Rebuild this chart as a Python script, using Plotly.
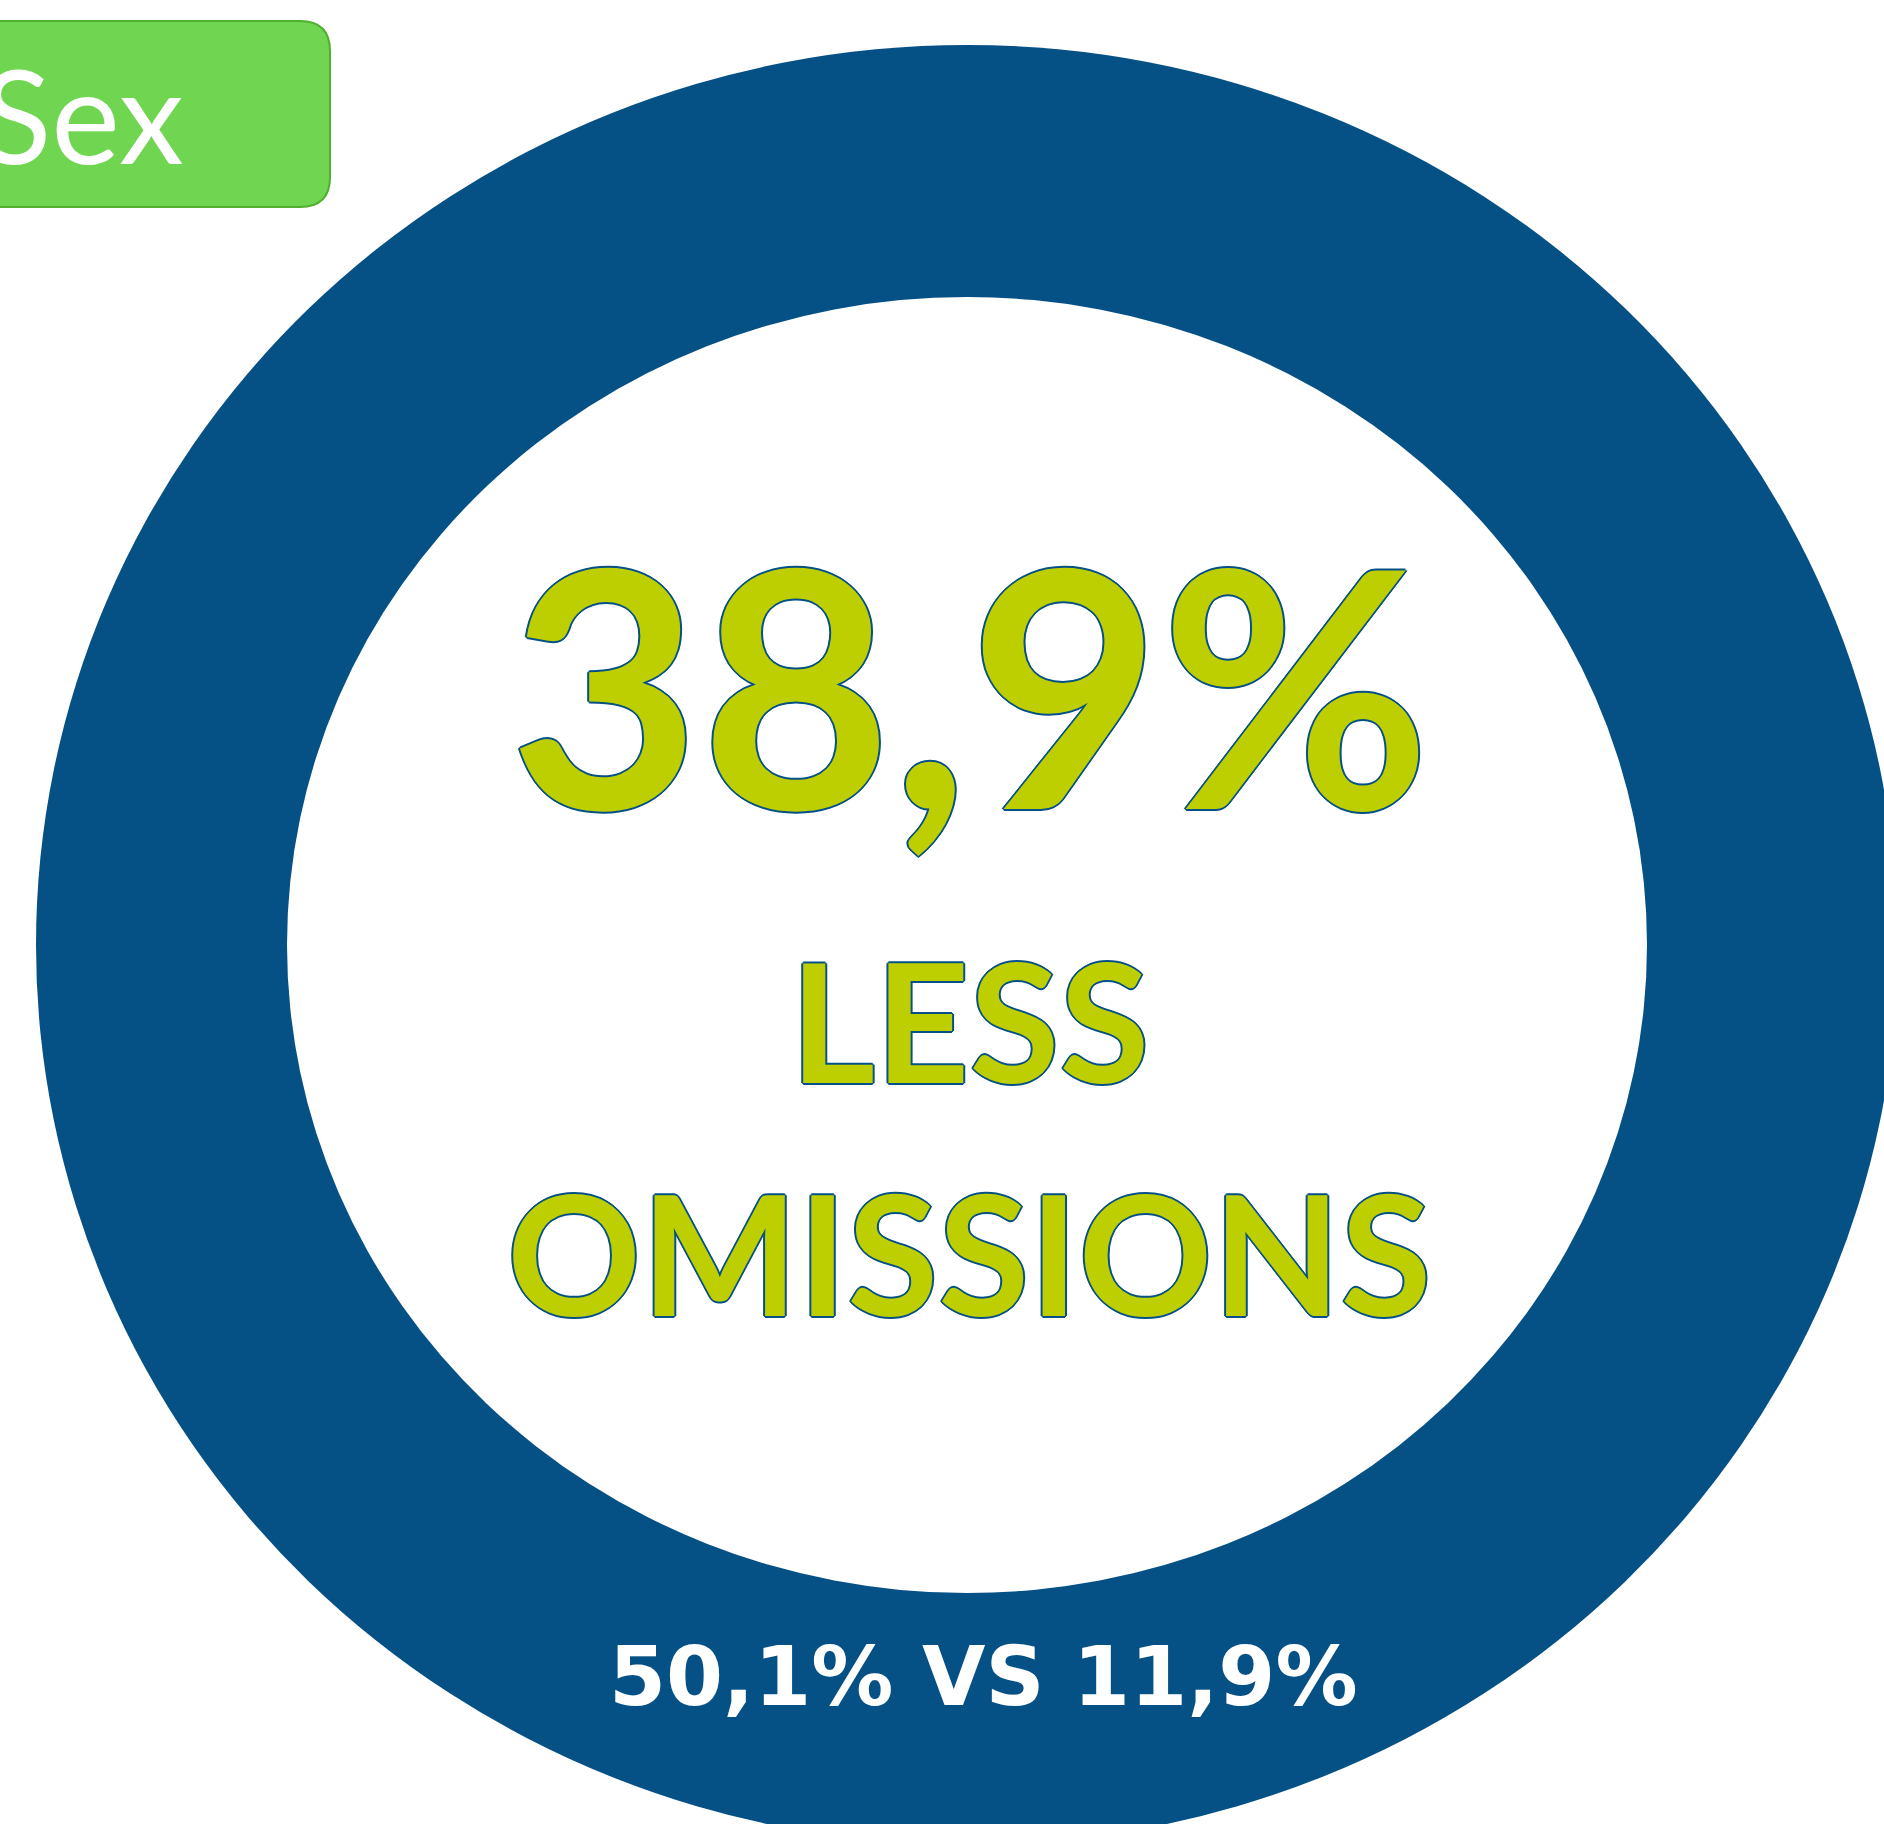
import plotly.graph_objects as go

# ---- data ----
headline_value = [38.9]
headline_labels = ["LESS", "OMISSIONS"]
group_values = [50.1, 11.9]
group_connector = "VS"
tag_label = ["Sex"]

def fmt(v):
    return f"{v:.1f}".replace(".", ",") + "%"

W, H = 1884, 1824
RING = "#055084"
GREEN = "#BDCF00"
outline = ", ".join(f"{dx}px {dy}px 0 {RING}" for dx, dy in
                    [(2, 0), (-2, 0), (0, 2), (0, -2), (1, 1), (-1, -1), (1, -1), (-1, 1)])

fig = go.Figure()

shapes = [
    # ring: outer ellipse then inner white ellipse
    dict(type="circle", xref="x", yref="y", x0=36, x1=1898, y0=45, y1=1845,
         fillcolor=RING, line=dict(width=0), layer="below"),
    dict(type="circle", xref="x", yref="y", x0=287, x1=1647, y0=297, y1=1593,
         fillcolor="white", line=dict(width=0), layer="below"),
    # tag box
    dict(type="path", xref="x", yref="y",
         path="M -40,21 L 300,21 Q 330,21 330,51 L 330,177 Q 330,207 300,207 L -40,207 Z",
         fillcolor="#70D651", line=dict(color="#52AE2F", width=2), layer="below"),
]

annotations = [
    dict(x=970, y=681, text=f"<b>{fmt(headline_value[0])}</b>", showarrow=False,
         xanchor="center", yanchor="middle",
         font=dict(family="Lato", size=330, color=GREEN, shadow=outline)),
    dict(x=969, y=1019, text=f"<b>{headline_labels[0]}</b>", showarrow=False,
         xanchor="center", yanchor="middle",
         font=dict(family="Lato", size=164, color=GREEN, shadow=outline)),
    dict(x=969, y=1251, text=f"<b>{headline_labels[1]}</b>", showarrow=False,
         xanchor="center", yanchor="middle",
         font=dict(family="Lato", size=166, color=GREEN, shadow=outline)),
    dict(x=983, y=1676,
         text=f"<b>{fmt(group_values[0])} {group_connector} {fmt(group_values[1])}</b>",
         showarrow=False, xanchor="center", yanchor="middle",
         font=dict(family="DejaVu Sans", size=82, color="white")),
    dict(x=186, y=114, text=tag_label[0], showarrow=False,
         xanchor="right", yanchor="middle",
         font=dict(family="Lato", size=130, color="white")),
]

fig.update_layout(
    width=W, height=H,
    margin=dict(l=0, r=0, t=0, b=0),
    paper_bgcolor="white", plot_bgcolor="white",
    xaxis=dict(range=[0, W], visible=False, fixedrange=True),
    yaxis=dict(range=[H, 0], visible=False, fixedrange=True),
    shapes=shapes, annotations=annotations, showlegend=False,
)

fig.write_html(
    "out.html",
    config={"displayModeBar": False},
    post_script="document.body.style.margin='0';document.body.style.overflow='hidden';",
)
